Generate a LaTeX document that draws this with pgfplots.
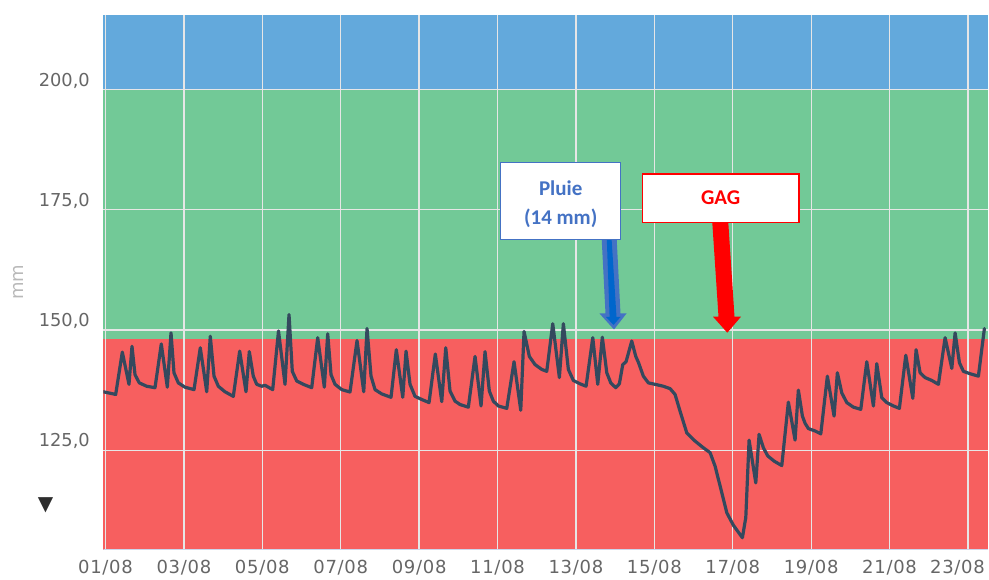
\documentclass[border=0pt]{standalone}
\usepackage{pgfplots}
\pgfplotsset{compat=1.18}
\usepackage{fontspec}
\setmainfont{DejaVu Sans}
\newfontfamily\calib{Carlito}
\newfontfamily\tickx[LetterSpace=4]{DejaVu Sans}
\definecolor{bandblue}{RGB}{99,169,220}
\definecolor{bandgreen}{RGB}{114,201,151}
\definecolor{bandred}{RGB}{247,95,95}
\definecolor{linec}{RGB}{52,73,94}
\definecolor{gridc}{RGB}{230,230,230}
\definecolor{xaxisc}{RGB}{204,214,235}
\definecolor{labelc}{RGB}{102,102,102}
\definecolor{mmc}{RGB}{185,185,185}
\definecolor{pluieblue}{RGB}{68,114,196}
\definecolor{pluiedark}{RGB}{0,102,204}
\definecolor{darkc}{RGB}{45,45,45}

\pgfplotstableread{
d v
0.944 137.15
1.260 136.6
1.429 145.4
1.599 138.7
1.676 146.6
1.753 140.7
1.862 139.0
2.051 138.3
2.263 138.0
2.423 147.1
2.577 138.1
2.671 149.4
2.747 141.1
2.857 139.0
3.028 138.1
3.258 137.6
3.418 146.3
3.582 137.15
3.673 148.7
3.768 140.4
3.878 138.3
4.048 137.15
4.260 136.2
4.423 145.6
4.584 137.15
4.668 145.5
4.770 140.4
4.857 138.7
4.985 138.3
5.069 138.5
5.265 137.6
5.413 149.8
5.579 138.7
5.681 153.2
5.765 141.4
5.878 139.4
6.046 138.7
6.260 138.0
6.413 148.4
6.582 138.1
6.668 149.2
6.753 140.7
6.855 138.7
7.026 137.6
7.237 137.1
7.416 147.8
7.587 137.15
7.671 150.3
7.773 140.4
7.875 137.6
8.046 136.7
8.283 136.0
8.418 145.9
8.582 136.0
8.666 145.6
8.768 138.7
8.895 136.2
9.066 135.55
9.253 134.9
9.413 145.0
9.577 135.1
9.679 146.3
9.788 137.3
9.916 135.2
10.043 134.5
10.255 133.95
10.426 144.5
10.579 134.2
10.681 145.5
10.791 137.3
10.893 135.2
11.020 134.2
11.235 133.7
11.421 143.4
11.592 133.3
11.676 149.7
11.811 144.5
11.957 142.8
12.128 141.8
12.255 141.4
12.408 151.3
12.577 140.1
12.679 151.3
12.806 141.8
12.934 139.5
13.105 138.8
13.258 138.3
13.429 148.4
13.556 138.7
13.673 148.5
13.786 141.1
13.888 139.0
14.015 138.0
14.107 138.8
14.194 142.8
14.278 143.4
14.423 147.7
14.526 144.5
14.592 143.3
14.719 140.4
14.847 139.0
15.018 138.7
15.230 138.3
15.401 137.8
15.528 136.6
15.656 133.1
15.827 128.6
16.038 126.9
16.250 125.5
16.421 124.5
16.548 121.7
16.719 116.2
16.847 112.0
17.015 109.4
17.245 106.8
17.332 111.0
17.416 127.1
17.587 118.2
17.671 128.3
17.781 125.5
17.893 123.8
18.061 122.7
18.250 121.8
18.418 135.0
18.589 127.1
18.673 137.5
18.776 132.1
18.844 130.6
18.929 129.5
19.099 129.0
19.245 128.4
19.413 140.4
19.584 132.1
19.668 141.1
19.781 136.9
19.908 134.9
20.077 133.95
20.265 133.5
20.418 143.4
20.587 134.2
20.673 143.0
20.801 135.9
20.929 134.9
21.097 134.2
21.250 133.7
21.413 144.75
21.592 135.8
21.676 145.9
21.778 141.1
21.906 140.1
22.077 139.5
22.245 138.7
22.416 148.4
22.587 142.0
22.671 149.4
22.781 143.2
22.883 141.4
23.054 140.9
23.265 140.4
23.418 150.3
}\niveau

\begin{document}
\begin{tikzpicture}[x=1pt,y=1pt]
\begin{axis}[
  set layers,
  scale only axis,
  width=884.7pt, height=534.7pt,
  at={(103.3pt,29.5pt)}, anchor=south west,
  xmin=0.944, xmax=23.51,
  ymin=104.35, ymax=215.55,
  xtick={1,3,...,21},
  xticklabels={01/08,03/08,05/08,07/08,09/08,11/08,13/08,15/08,17/08,19/08,21/08},
  extra x ticks={23},
  extra x tick labels={23/08},
  extra x tick style={grid=major, major grid style={draw=gridc, line width=1.3pt}, xticklabel style={xshift=-10.5pt}},
  ytick={125,150,175,200},
  yticklabels={{125,0},{150,0},{175,0},{200,0}},
  major tick length=0pt,
  grid=major,
  major grid style={draw=gridc, line width=1.3pt},
  axis line style={draw=none},
  yticklabel style={font=\fontsize{17.8}{20}\selectfont, text=labelc, anchor=east, inner sep=0pt, xshift=-13.3pt, yshift=9pt},
  xticklabel style={font=\tickx\fontsize{18}{20}\selectfont, text=labelc, anchor=north, inner sep=0pt, yshift=-10.9pt},
]
\begin{pgfonlayer}{axis background}
  \fill[bandred] (axis cs:0.944,104.35) rectangle (axis cs:23.51,148.07);
  \fill[bandgreen] (axis cs:0.944,148.07) rectangle (axis cs:23.51,200);
  \fill[bandblue] (axis cs:0.944,200) rectangle (axis cs:23.51,215.55);
\end{pgfonlayer}
\draw[xaxisc, line width=1.2pt] (rel axis cs:0,0) -- (rel axis cs:1,0);
\addplot[color=linec, line width=3.2pt, line join=round, line cap=round, mark=none] table[x=d, y=v] {\niveau};
\end{axis}

% y axis title and symbol
\node[rotate=90, text=mmc, font=\fontsize{18}{20}\selectfont] at (18.3,297) {mm};
\node[text=darkc, font=\fontsize{20}{20}\selectfont, inner sep=0pt] at (45.5,73.5) {▼};

% Pluie arrow
\fill[pluieblue] (601.7,339.7) -- (605.5,265.5) -- (599.5,265.5) -- (614,249.5) -- (626.5,265.5) -- (620.5,265.5) -- (616.7,339.7) -- cycle;
\fill[pluiedark] (606.8,339.7) -- (609.6,262) -- (606,262) -- (613.5,254) -- (620.5,262) -- (616.5,262) -- (611.6,339.7) -- cycle;
% GAG arrow
\fill[red] (712.3,356.3) -- (718.5,262.3) -- (713,262.3) -- (727.3,246.3) -- (741,262.3) -- (734.5,262.3) -- (728.3,356.3) -- cycle;

% boxes
\draw[pluieblue, fill=white, line width=1.2pt] (500.7,416.3) rectangle (620.7,339.7);
\node[text=pluieblue, font=\calib\bfseries\fontsize{21}{24}\selectfont] at (560.7,391) {Pluie};
\node[text=pluieblue, font=\calib\bfseries\fontsize{21}{24}\selectfont] at (560.7,361) {(14 mm)};
\draw[red, fill=white, line width=1.2pt] (642.3,405) rectangle (799,356.3);
\node[text=red, font=\calib\bfseries\fontsize{21}{24}\selectfont] at (720.7,381) {GAG};

\pgfresetboundingbox
\path (0,0) rectangle (989,579);
\end{tikzpicture}
\end{document}
